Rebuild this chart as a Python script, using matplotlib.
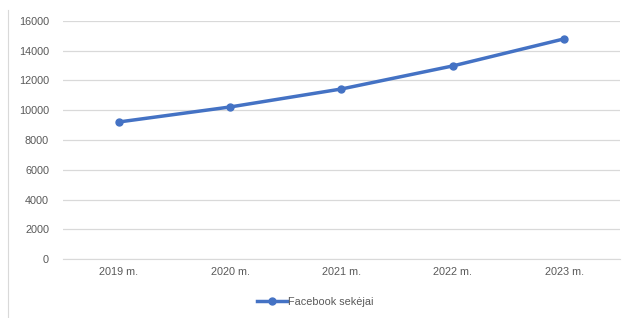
import matplotlib.pyplot as plt
from matplotlib.lines import Line2D

years = ['2019 m.', '2020 m.', '2021 m.', '2022 m.', '2023 m.']
followers = [9210, 10220, 11430, 12980, 14800]
y_ticks = [0, 2000, 4000, 6000, 8000, 10000, 12000, 14000, 16000]

plt.rcParams['font.family'] = ['Liberation Sans', 'DejaVu Sans']

fig = plt.figure(figsize=(6.3, 3.18), dpi=100)
ax = fig.add_axes([0.1, 0.1855, 0.884, 0.7485])

x = range(len(years))
ax.plot(x, followers, color='#4472C4', linewidth=2.5, marker='o', markersize=5,
        label='Facebook sekėjai', zorder=3)

ax.set_xlim(-0.5, len(years) - 0.5)
ax.set_ylim(0, 16000)
ax.set_yticks(y_ticks)
ax.set_xticks(list(x))
ax.set_xticklabels(years)
ax.grid(axis='y', color='#D9D9D9', linewidth=0.9)
ax.set_axisbelow(True)
for s in ['top', 'right', 'left']:
    ax.spines[s].set_visible(False)
ax.spines['bottom'].set_color('#D9D9D9')
ax.tick_params(axis='both', length=0, labelsize=7.8, colors='#595959')
ax.tick_params(axis='y', pad=10)
ax.tick_params(axis='x', pad=6)

fig.legend(handles=[Line2D([], [], color='#4472C4', linewidth=2.5, marker='o', markersize=5)],
           labels=['Facebook sekėjai'], loc='center', bbox_to_anchor=(0.5, 0.05),
           frameon=False, fontsize=7.8, labelcolor='#595959', handlelength=2.8,
           handletextpad=0.1)

# left border of the chart frame
fig.add_artist(Line2D([0.013, 0.013], [0.0, 0.97], color='#D9D9D9', linewidth=0.8))

fig.savefig('out.png', dpi=100)
